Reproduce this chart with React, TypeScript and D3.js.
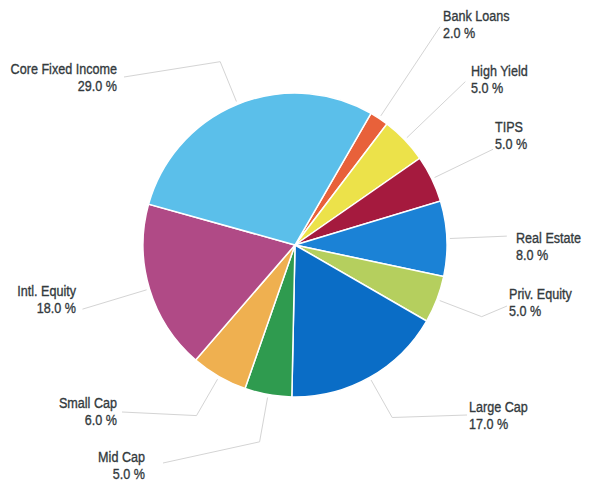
import React from "react";
import * as d3 from "d3";

const categories = [
  "Bank Loans",
  "High Yield",
  "TIPS",
  "Real Estate",
  "Priv. Equity",
  "Large Cap",
  "Mid Cap",
  "Small Cap",
  "Intl. Equity",
  "Core Fixed Income",
];
const values = [2, 5, 5, 8, 5, 17, 5, 6, 18, 29];
const colors = [
  "#e8613a",
  "#ece24a",
  "#a51a3e",
  "#1b82d6",
  "#b5cf5e",
  "#0a6dc6",
  "#2f9b4f",
  "#efb050",
  "#b04a86",
  "#5bbfea",
];

// label layout: elbow radius, end of leader, text anchor point, alignment
const labelLayout = [
  { elbowR: 262, end: null, tx: 443, ty: 21, anchor: "start" },
  { elbowR: 236, end: null, tx: 471, ty: 76, anchor: "start" },
  { elbowR: 220, end: null, tx: 495, ty: 132, anchor: "start" },
  { elbowR: 212, end: null, tx: 516, ty: 243, anchor: "start" },
  { elbowR: 200, end: [507, 306], tx: 509, ty: 299, anchor: "start" },
  { elbowR: 198, end: [467, 415], tx: 469, ty: 412, anchor: "start" },
  { elbowR: 200, end: [163, 463], tx: 145, ty: 462, anchor: "end" },
  { elbowR: 197, end: [122, 412], tx: 117, ty: 408, anchor: "end" },
  { elbowR: 222, end: null, tx: 76, ty: 296, anchor: "end" },
  { elbowR: 198, end: [124, 77], tx: 117, ty: 74, anchor: "end" },
];

const W = 589;
const H = 482;
const cx = 295;
const cy = 245;
const R = 152;

export default function App() {
  const data = categories.map((c, i) => ({ name: c, value: values[i], i }));
  const startA = (30 * Math.PI) / 180;
  const pie = d3
    .pie<any>()
    .sort(null)
    .value((d) => d.value)
    .startAngle(startA)
    .endAngle(startA + 2 * Math.PI);
  const arcs = pie(data);
  const arc = d3.arc<any>().innerRadius(0).outerRadius(R);
  const pt = (a: number, r: number): [number, number] => [
    Math.sin(a) * r,
    -Math.cos(a) * r,
  ];

  return (
    <svg
      width={W}
      height={H}
      style={{ position: "absolute", left: 0, top: 0, background: "#fff" }}
    >
      <g transform={`translate(${cx},${cy})`}>
        {arcs.map((a, i) => (
          <path
            key={i}
            d={arc(a) as string}
            fill={colors[i]}
            stroke="#ffffff"
            strokeWidth={1.5}
          />
        ))}
      </g>
      {arcs.map((a, i) => {
        const mid = (a.startAngle + a.endAngle) / 2;
        const L = labelLayout[i];
        const p0 = pt(mid, R + 3);
        const p1 = pt(mid, L.elbowR);
        const pts: [number, number][] = [
          [cx + p0[0], cy + p0[1]],
          [cx + p1[0], cy + p1[1]],
        ];
        if (L.end) pts.push(L.end as [number, number]);
        const line = d3.line()(pts) as string;
        return (
          <path
            key={"l" + i}
            d={line}
            fill="none"
            stroke="#d4d4d4"
            strokeWidth={1}
          />
        );
      })}
      {arcs.map((a, i) => {
        const L = labelLayout[i];
        return (
          <g
            key={"t" + i}
            transform={`translate(${L.tx},${L.ty}) scale(0.84,1)`}
            fontFamily="'Liberation Sans', Arial, sans-serif"
            fontSize={15}
            fill="#333a3d"
            stroke="#333a3d"
            strokeWidth={0.35}
            textAnchor={L.anchor as any}
          >
            <text x={0} y={0}>
              {categories[i]}
            </text>
            <text x={0} y={17}>
              {values[i].toFixed(1) + " %"}
            </text>
          </g>
        );
      })}
    </svg>
  );
}
